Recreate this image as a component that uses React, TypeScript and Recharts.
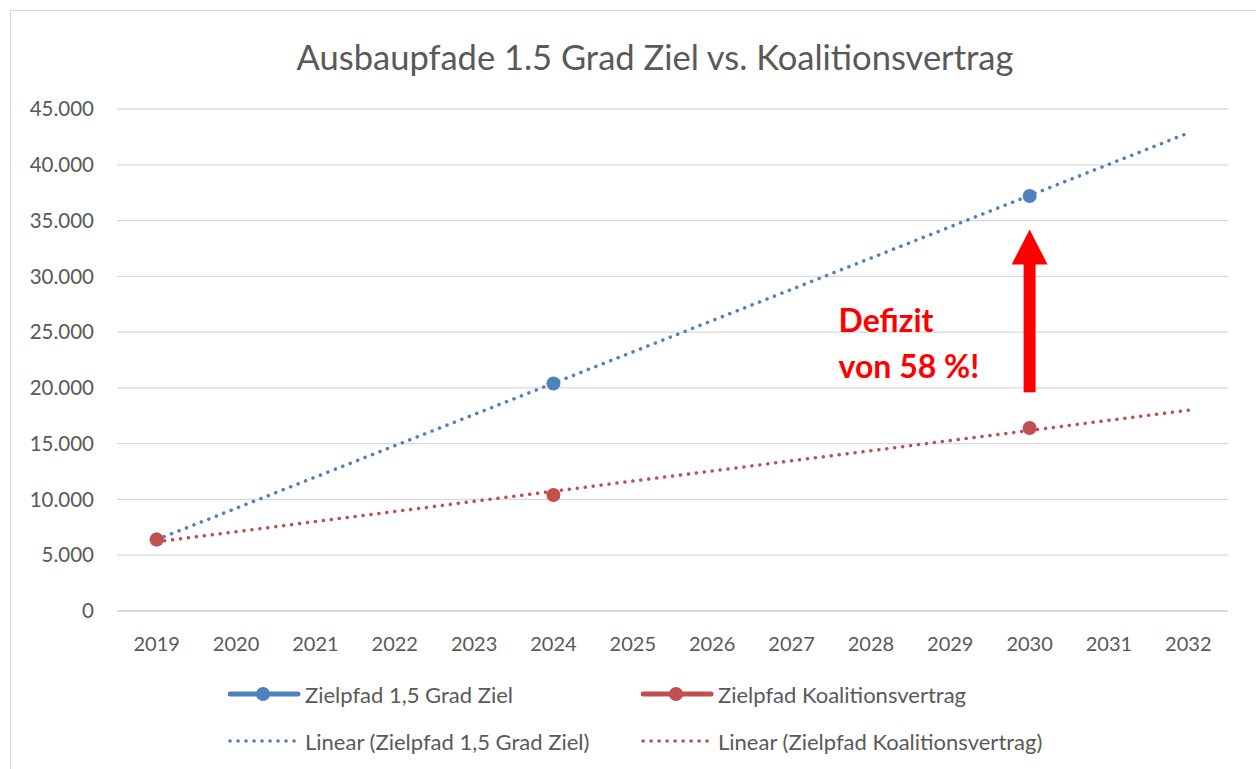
import React from 'react'
import { LineChart, Line, XAxis, YAxis, CartesianGrid, ReferenceLine } from 'recharts'

// values
const years = [2019, 2020, 2021, 2022, 2023, 2024, 2025, 2026, 2027, 2028, 2029, 2030, 2031, 2032]
const pointYears = [2019, 2024, 2030]
const ziel15 = [6400, 20400, 37200]
const zielKoa = [6400, 10400, 16400]
const trendYears = [2019, 2032]
const trend15 = [6400, 42850]
const trendKoa = [6200, 18000]
const yTicks = [0, 5000, 10000, 15000, 20000, 25000, 30000, 35000, 40000, 45000]
const arrowYear = 2030
const arrowFrom = 19600
const arrowTo = 34200

const BLUE = '#4F81BD'
const RED = '#C0504D'
const TEXT = '#595959'
const FONT = 'Lato, "Open Sans", sans-serif'

const fmt = (v: number) => String(v).replace(/\B(?=(\d{3})+(?!\d))/g, '.')

const zielData = pointYears.map((year, i) => ({ year, a: ziel15[i] }))
const koaData = pointYears.map((year, i) => ({ year, b: zielKoa[i] }))
const trendAData = trendYears.map((year, i) => ({ year, ta: trend15[i] }))
const trendBData = trendYears.map((year, i) => ({ year, tb: trendKoa[i] }))

const dotted = { strokeWidth: 3.5, strokeDasharray: '0.1 7.9', strokeLinecap: 'round' as const }

const Arrow = (p: any) => {
      const { x1, y1, y2 } = p
      const top = Math.min(y1, y2)
      const bottom = Math.max(y1, y2)
      const headBase = top + 35
      return (
            <g>
                  <rect x={x1 - 6} y={headBase - 1} width={12} height={bottom - headBase + 1} fill="#FF0000" />
                  <polygon points={`${x1},${top} ${x1 - 18},${headBase} ${x1 + 18},${headBase}`} fill="#FF0000" />
                  <text x={x1 - 191} y={top + 103} fill="#FF0000" fontFamily={FONT} fontWeight={700} fontSize={32}>Defizit</text>
                  <text x={x1 - 191} y={top + 149} fill="#FF0000" fontFamily={FONT} fontWeight={700} fontSize={32}>von 58 %!</text>
            </g>
      )
}

const legendItems = [
      { name: 'Zielpfad 1,5 Grad Ziel', color: BLUE, dotted: false, x: 228, y: 694 },
      { name: 'Zielpfad Koalitionsvertrag', color: RED, dotted: false, x: 641, y: 694 },
      { name: 'Linear (Zielpfad 1,5 Grad Ziel)', color: BLUE, dotted: true, x: 228, y: 741 },
      { name: 'Linear (Zielpfad Koalitionsvertrag)', color: RED, dotted: true, x: 641, y: 741 }
]

export default function App() {
      return (
            <div style={{ position: 'fixed', left: 0, top: 0, width: 1256, height: 769, overflow: 'hidden', background: '#fff', fontFamily: FONT }}>
                  <div style={{ position: 'absolute', left: 10, top: 10, width: 1300, height: 800, border: '1px solid #d9d9d9' }} />
                  <div style={{ position: 'absolute', left: 0, width: 1310, top: 37, textAlign: 'center', fontSize: 34.5, color: TEXT, lineHeight: '40px' }}>
                        Ausbaupfade 1.5 Grad Ziel vs. Koalitionsvertrag
                  </div>
                  <div style={{ position: 'absolute', left: 0, top: 0 }}>
                        <LineChart width={1256} height={665} margin={{ top: 109, right: 28, bottom: 24, left: 0 }}>
                              <CartesianGrid vertical={false} stroke="#d9d9d9" strokeWidth={1.3} />
                              <XAxis
                                    type="number"
                                    dataKey="year"
                                    domain={[2018.5, 2032.5]}
                                    ticks={years}
                                    height={30}
                                    axisLine={{ stroke: '#d9d9d9', strokeWidth: 1.3 }}
                                    tickLine={false}
                                    tickMargin={20}
                                    tick={{ fill: TEXT, fontSize: 20, fontFamily: FONT }}
                                    allowDuplicatedCategory={false}
                              />
                              <YAxis
                                    type="number"
                                    domain={[0, 45000]}
                                    ticks={yTicks}
                                    width={117}
                                    axisLine={false}
                                    tickLine={false}
                                    tickMargin={17}
                                    tickFormatter={fmt}
                                    tick={{ fill: TEXT, fontSize: 20.5, fontFamily: FONT }}
                              />
                              <Line data={trendAData} dataKey="ta" stroke={BLUE} {...dotted} dot={false} activeDot={false} isAnimationActive={false} />
                              <Line data={trendBData} dataKey="tb" stroke={RED} {...dotted} dot={false} activeDot={false} isAnimationActive={false} />
                              <Line data={zielData} dataKey="a" stroke="none" dot={{ r: 7, fill: BLUE, stroke: BLUE, strokeWidth: 0 }} activeDot={false} isAnimationActive={false} />
                              <Line data={koaData} dataKey="b" stroke="none" dot={{ r: 7, fill: RED, stroke: RED, strokeWidth: 0 }} activeDot={false} isAnimationActive={false} />
                              <ReferenceLine
                                    segment={[{ x: arrowYear, y: arrowFrom }, { x: arrowYear, y: arrowTo }]}
                                    ifOverflow="visible"
                                    shape={Arrow}
                              />
                        </LineChart>
                  </div>
                  {legendItems.map((it) => (
                        <div key={it.name} style={{ position: 'absolute', left: it.x, top: it.y - 15, height: 30, display: 'flex', alignItems: 'center', color: TEXT, fontSize: 22, whiteSpace: 'nowrap' }}>
                              <svg width={77} height={30}>
                                    {it.dotted ? (
                                          <line x1={2} y1={15} x2={72} y2={15} stroke={it.color} {...dotted} />
                                    ) : (
                                          <g>
                                                <line x1={2} y1={15} x2={70} y2={15} stroke={it.color} strokeWidth={5} strokeLinecap="round" />
                                                <circle cx={35} cy={15} r={7} fill={it.color} />
                                          </g>
                                    )}
                              </svg>
                              <span>{it.name}</span>
                        </div>
                  ))}
            </div>
      )
}
